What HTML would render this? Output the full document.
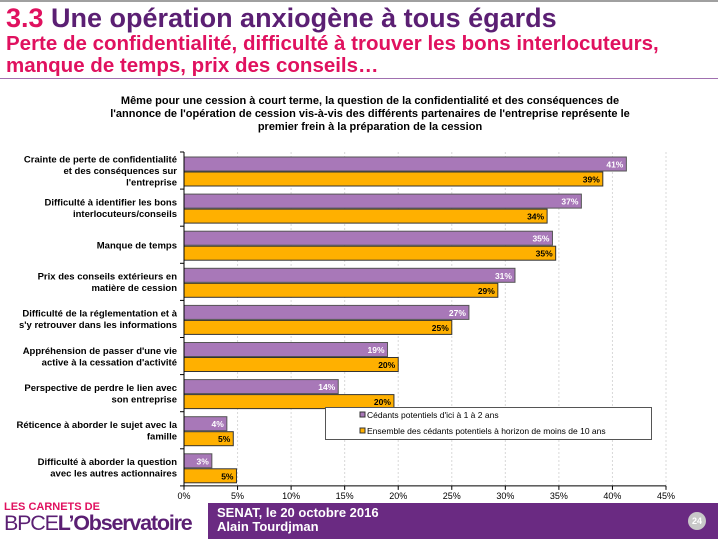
<!DOCTYPE html>
<html><head><meta charset="utf-8">
<style>
body{margin:0;width:718px;height:539px;overflow:hidden;background:#fff;font-family:"Liberation Sans",sans-serif;position:relative}
.abs{position:absolute}
</style></head><body>
<div class="abs" style="left:0;top:0;width:718px;height:2px;background:#a0a0a0"></div>
<div class="abs" style="left:6px;top:3px;font-size:27px;font-weight:bold;color:#5b1f73;white-space:nowrap"><span style="color:#e0115f">3.3</span> Une opération anxiogène à tous égards</div>
<div class="abs" style="left:6px;top:33px;font-size:20.5px;font-weight:bold;color:#e0115f;line-height:22px;white-space:nowrap">Perte de confidentialité, difficulté à trouver les bons interlocuteurs,<br>manque de temps, prix des conseils…</div>
<div class="abs" style="left:0;top:78px;width:718px;height:1px;background:#a070b0"></div>
<div class="abs" style="left:95px;top:95px;width:550px;text-align:center;font-size:11px;font-weight:bold;line-height:13px;color:#000">Même pour une cession à court terme, la question de la confidentialité et des conséquences de l'annonce de l'opération de cession vis-à-vis des différents partenaires de l'entreprise représente le premier frein à la préparation de la cession</div>
<svg class="abs" style="left:0;top:0" width="718" height="539" id="chart"></svg>
<div class="abs" style="left:4px;top:502px;line-height:1">
<div style="color:#e0115f;font-size:11px;font-weight:bold">LES CARNETS DE</div>
<div style="color:#5b1f73;font-size:21.5px;letter-spacing:-1.2px;white-space:nowrap"><span>BPCE</span><b>L’Observatoire</b></div></div>
<div class="abs" style="left:208px;top:503px;width:510px;height:36px;background:#6a2a82"></div>
<div class="abs" style="left:217px;top:506px;color:#fff;font-size:13px;font-weight:bold;line-height:14px">SENAT, le 20 octobre 2016<br>Alain Tourdjman</div>
<div class="abs" style="left:688px;top:512px;width:18px;height:18px;border-radius:50%;background:#c8c8c8;color:#fff;font-size:9px;font-weight:bold;text-align:center;line-height:18px">24</div>
<script>
const categories=["Crainte de perte de confidentialité|et des conséquences sur|l'entreprise","Difficulté à identifier les bons|interlocuteurs/conseils","Manque de temps","Prix des conseils extérieurs en|matière de cession","Difficulté de la réglementation et à|s'y retrouver dans les informations","Appréhension de passer d'une vie|active à la cessation d'activité","Perspective de perdre le lien avec|son entreprise","Réticence à aborder le sujet avec la|famille","Difficulté à aborder la question|avec les autres actionnaires"];
const seriesA=[41.3,37.1,34.4,30.9,26.6,19.0,14.4,4.0,2.6];
const seriesB=[39.1,33.9,34.7,29.3,25.0,20.0,19.6,4.6,4.9];
const labelsA=["41%","37%","35%","31%","27%","19%","14%","4%","3%"];
const labelsB=["39%","34%","35%","29%","25%","20%","20%","5%","5%"];
const ticks=[0,5,10,15,20,25,30,35,40,45];
const svg=document.getElementById('chart');
const NS='http://www.w3.org/2000/svg';
const x0=184,x1=666,xmax=45,top0=152,band=37.1;
const xs=v=>x0+(x1-x0)*v/xmax;
function mk(t,a,p){const e=document.createElementNS(NS,t);for(const k in a)e.setAttribute(k,a[k]);(p||svg).appendChild(e);return e;}
ticks.forEach(t=>{
 if(t>0){const g=mk('line',{x1:xs(t),x2:xs(t),y1:top0,y2:top0+band*9,stroke:'#d8d8d8','stroke-dasharray':'2,2'});
 
 }
 const tl=mk('text',{x:xs(t),y:499,'text-anchor':'middle','font-size':9,fill:'#000'});tl.textContent=t+'%';
 
 
});
categories.forEach((c,i)=>{
 const bt=top0+i*band;
 const ra=mk('rect',{x:x0,y:bt+5,width:xs(seriesA[i])-x0,height:14,fill:'#a878b8',stroke:'#555','stroke-width':1});
 
 
 const rb=mk('rect',{x:x0,y:bt+20,width:xs(seriesB[i])-x0,height:14,fill:'#ffb000',stroke:'#333','stroke-width':1});
 
 
 const la=mk('text',{x:xs(seriesA[i])-3,y:bt+15.5,'text-anchor':'end','font-size':8.5,'font-weight':'bold',fill:'#fff'});la.textContent=labelsA[i];
 
 
 const lb=mk('text',{x:xs(seriesB[i])-3,y:bt+30.5,'text-anchor':'end','font-size':8.5,'font-weight':'bold',fill:'#000'});lb.textContent=labelsB[i];
 
 
 const lines=c.split('|');const lh=11.5;const sy=bt+band/2-(lines.length-1)*lh/2+3.5;
 lines.forEach((l,j)=>{const t=mk('text',{x:177,y:sy+j*lh,'text-anchor':'end','font-size':9.5,'font-weight':'bold',fill:'#000'});t.textContent=l;
 
 });
 mk('line',{x1:x0-4,x2:x0,y1:bt,y2:bt,stroke:'#000'});
});
mk('line',{x1:x0-4,x2:x0,y1:top0+9*band,y2:top0+9*band,stroke:'#000'});
const ya=mk('line',{x1:x0,x2:x0,y1:top0,y2:top0+9*band,stroke:'#000'});


const xa=mk('line',{x1:x0,x2:x1,y1:top0+9*band,y2:top0+9*band,stroke:'#000'});


ticks.forEach(t=>mk('line',{x1:xs(t),x2:xs(t),y1:top0+9*band,y2:top0+9*band+4,stroke:'#000'}));
const lg=mk('g',{});


mk('rect',{x:325.5,y:407.5,width:326,height:32,fill:'#fff',stroke:'#555'},lg);
mk('rect',{x:360,y:412,width:5,height:5,fill:'#a878b8',stroke:'#333'},lg);
mk('rect',{x:360,y:428,width:5,height:5,fill:'#ffb000',stroke:'#333'},lg);
const t1=mk('text',{x:367,y:418,'font-size':8.5,fill:'#000'},lg);t1.textContent="Cédants potentiels d'ici à 1 à 2 ans";
const t2=mk('text',{x:367,y:434,'font-size':8.5,fill:'#000'},lg);t2.textContent="Ensemble des cédants potentiels à horizon de moins de 10 ans";
</script>
</body></html>
